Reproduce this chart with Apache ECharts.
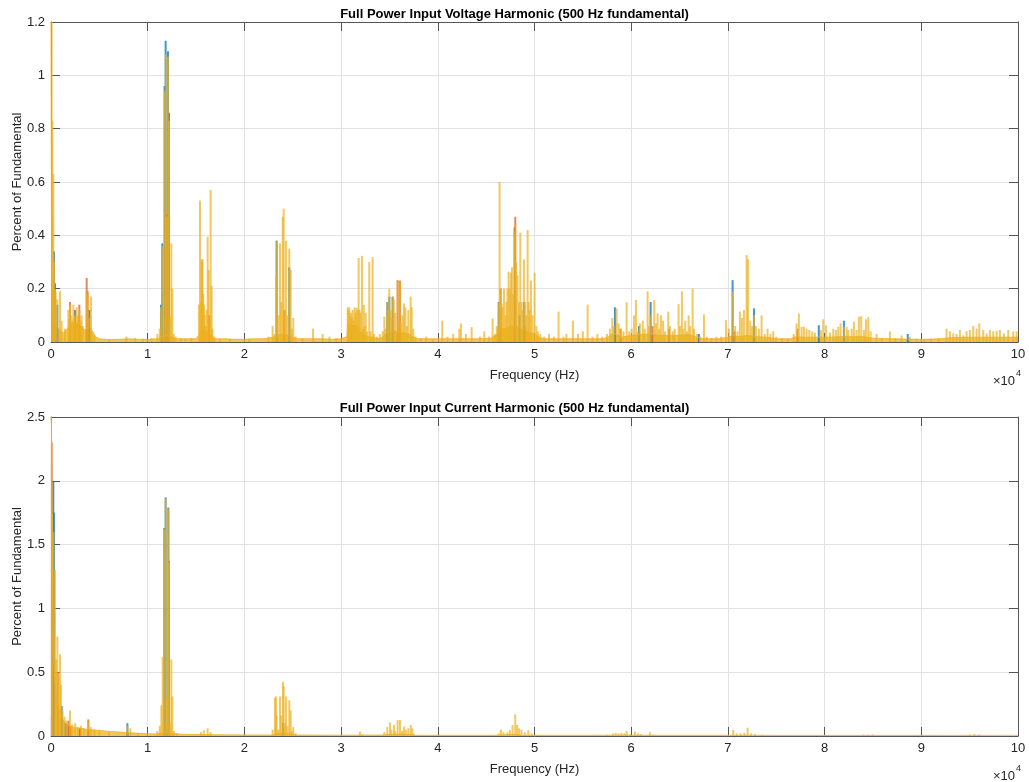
<!DOCTYPE html>
<html><head><meta charset="utf-8">
<script src="https://cdn.jsdelivr.net/npm/echarts@6/dist/echarts.min.js"></script>
<style>html,body{margin:0;padding:0;background:#fff}#c{width:1029px;height:782px}</style>
</head><body><div id="c"></div>
<script>
// ---------- Titles / labels ----------
const titles = ['Full Power Input Voltage Harmonic (500 Hz fundamental)', 'Full Power Input Current Harmonic (500 Hz fundamental)'];
const xName = 'Frequency (Hz)';
const yName = 'Percent of Fundamental';
const xTickValues = [0,10000,20000,30000,40000,50000,60000,70000,80000,90000,100000];
const xTickLabels = ['0','1','2','3','4','5','6','7','8','9','10'];
const voltYTicks = [0,0.2,0.4,0.6,0.8,1,1.2];
const currYTicks = [0,0.5,1,1.5,2,2.5];

// ---------- Voltage harmonic data: [frequency Hz, percent] ----------
const voltFloor = [[0,1.2],[50,0.5],[100,0.25],[200,0.12],[300,0.1],[450,0.07],[600,0.06],[800,0.05],[1000,0.04],[1300,0.035],[1600,0.045],[1900,0.06],[2200,0.07],[2500,0.065],[2800,0.07],[3100,0.06],[3400,0.045],[3700,0.05],[4000,0.06],[4300,0.04],[4600,0.02],[5000,0.012],[6000,0.009],[7000,0.01],[8000,0.012],[9000,0.01],[10000,0.01],[11000,0.012],[11500,0.02],[12000,0.025],[12500,0.018],[13000,0.012],[14000,0.012],[15000,0.012],[15300,0.025],[15600,0.05],[15900,0.04],[16300,0.035],[16700,0.02],[17000,0.012],[18000,0.012],[19000,0.01],[20000,0.01],[21000,0.012],[22000,0.012],[23000,0.018],[23500,0.025],[24000,0.03],[24500,0.025],[25000,0.018],[25500,0.012],[27000,0.012],[28000,0.012],[29000,0.01],[30000,0.012],[30600,0.02],[30700,0.07],[31000,0.065],[31300,0.06],[31600,0.065],[31900,0.04],[32300,0.03],[32800,0.02],[33300,0.018],[33800,0.012],[34300,0.018],[34700,0.035],[35000,0.04],[35500,0.04],[36000,0.035],[36500,0.035],[37000,0.03],[37500,0.018],[38000,0.012],[40000,0.012],[42000,0.012],[44000,0.012],[45500,0.014],[46200,0.03],[46500,0.05],[47000,0.05],[47500,0.06],[48000,0.06],[48500,0.05],[49000,0.045],[49500,0.035],[50000,0.03],[50500,0.018],[51000,0.012],[53000,0.012],[55000,0.012],[57000,0.012],[57600,0.018],[58000,0.03],[58500,0.028],[59000,0.018],[60000,0.025],[61000,0.028],[62000,0.03],[63000,0.025],[64000,0.025],[65000,0.025],[66000,0.028],[66800,0.018],[67500,0.012],[69000,0.012],[70000,0.018],[70500,0.025],[71000,0.02],[72000,0.025],[73000,0.02],[74000,0.018],[75000,0.012],[76500,0.012],[77000,0.02],[78000,0.018],[80000,0.018],[82000,0.02],[84000,0.02],[85000,0.014],[87000,0.012],[90000,0.01],[92000,0.012],[93000,0.016],[95000,0.018],[97000,0.018],[100000,0.018]];

const voltYellow = [[69,1.25],[138,0.83],[241,0.63],[310,0.3],[414,0.2],[483,0.19],[655,0.16],[931,0.19],[1103,0.08],[1448,0.05],[1792,0.12],[1880,0.09],[1965,0.14],[2100,0.1],[2200,0.08],[2309,0.14],[2400,0.09],[2482,0.1],[2560,0.07],[2654,0.13],[2760,0.1],[2850,0.08],[2930,0.12],[3050,0.08],[3171,0.1],[3300,0.06],[3688,0.19],[3792,0.18],[3964,0.09],[4136,0.17],[4300,0.03],[4500,0.025],
[6000,0.01],[7800,0.02],[8700,0.015],[9500,0.012],[10400,0.015],
[11000,0.03],[11250,0.05],[11374,0.13],[11510,0.36],[11640,0.1],[11750,0.94],[11855,1.08],[11950,0.47],[12098,1.07],[12200,0.83],[12320,0.1],[12440,0.37],[12545,0.2],[12700,0.03],[12900,0.02],[13400,0.015],[13900,0.012],[14500,0.015],
[15300,0.14],[15407,0.53],[15500,0.15],[15560,0.31],[15613,0.3],[15680,0.31],[15750,0.18],[15820,0.14],[15900,0.1],[16000,0.06],[16100,0.12],[16200,0.395],[16300,0.27],[16400,0.08],[16510,0.57],[16613,0.21],[16700,0.05],[16900,0.02],[17500,0.012],[18500,0.01],[20500,0.012],
[22500,0.02],[22923,0.06],[23100,0.03],[23265,0.25],[23337,0.38],[23500,0.1],[23678,0.37],[23800,0.15],[23958,0.47],[24061,0.5],[24180,0.12],[24299,0.38],[24450,0.1],[24640,0.35],[24785,0.27],[24900,0.05],[25054,0.09],[25300,0.02],[26000,0.015],[27100,0.05],[28090,0.03],[28800,0.02],[29500,0.015],
[30680,0.13],[30760,0.12],[30850,0.13],[30940,0.1],[31030,0.11],[31120,0.09],[31210,0.12],[31300,0.08],[31400,0.13],[31500,0.11],[31600,0.128],[31700,0.12],[31814,0.315],[31900,0.12],[32000,0.11],[32157,0.323],[32250,0.05],[32350,0.14],[32450,0.06],[32550,0.11],[32700,0.04],[32916,0.3],[33050,0.04],[33262,0.318],[33400,0.03],[33700,0.02],[34000,0.03],
[34300,0.04],[34466,0.095],[34600,0.05],[34776,0.15],[34880,0.12],[34983,0.2],[35100,0.12],[35200,0.09],[35330,0.17],[35450,0.16],[35600,0.11],[35847,0.232],[35950,0.07],[36087,0.226],[36200,0.07],[36350,0.1],[36500,0.145],[36650,0.13],[36800,0.06],[36950,0.12],[37193,0.17],[37300,0.13],[37469,0.05],[37700,0.02],
[38200,0.015],[38800,0.02],[39500,0.01],[40460,0.08],[41000,0.02],[41600,0.03],[42220,0.05],[42395,0.07],[42910,0.03],[43500,0.056],[44360,0.02],[44800,0.04],[45300,0.02],[45670,0.088],[45900,0.03],[46100,0.06],
[46200,0.05],[46300,0.145],[46390,0.6],[46500,0.2],[46600,0.145],[46700,0.13],[46850,0.2],[47000,0.1],[47100,0.15],[47200,0.2],[47323,0.264],[47450,0.2],[47550,0.26],[47667,0.28],[47800,0.18],[47943,0.41],[48012,0.44],[48100,0.3],[48250,0.25],[48400,0.15],[48530,0.41],[48650,0.15],[48780,0.12],[48909,0.31],[49050,0.15],[49150,0.1],[49289,0.42],[49400,0.15],[49500,0.12],[49632,0.23],[49800,0.1],[50012,0.26],[50200,0.06],[50350,0.04],[50600,0.03],[51000,0.02],[51500,0.03],[52000,0.02],[52493,0.114],[53000,0.02],[53300,0.03],[53970,0.08],[54500,0.03],[55000,0.04],[55490,0.14],[56000,0.02],[56500,0.03],[57000,0.02],
[57500,0.03],[57800,0.05],[58043,0.09],[58200,0.06],[58491,0.126],[58700,0.07],[58900,0.05],[59200,0.04],[59525,0.149],[59800,0.04],[60050,0.05],[60283,0.1],[60490,0.157],[60700,0.04],[60900,0.07],[61200,0.08],[61400,0.05],[61697,0.19],[61850,0.06],[62007,0.1],[62386,0.157],[62550,0.07],[62731,0.107],[62900,0.05],[63075,0.1],[63300,0.08],[63500,0.04],[63834,0.114],[64000,0.06],[64300,0.04],[64500,0.05],[64902,0.142],[65050,0.06],[65247,0.19],[65400,0.05],[65592,0.08],[65750,0.04],[65936,0.1],[66100,0.06],[66350,0.2],[66500,0.05],[66800,0.03],[67100,0.02],[67522,0.104],[67800,0.02],[68300,0.015],[68800,0.02],[69300,0.02],[69797,0.082],[70100,0.05],[70486,0.19],[70750,0.06],[71000,0.04],[71244,0.114],[71450,0.09],[71658,0.12],[71934,0.326],[72072,0.31],[72300,0.08],[72500,0.06],[72693,0.1],[72900,0.06],[73200,0.05],[73485,0.1],[73800,0.03],[74100,0.05],[74400,0.03],[74692,0.04],[75000,0.02],[75600,0.015],[76200,0.012],[76800,0.03],
[77103,0.07],[77344,0.107],[77620,0.057],[77861,0.057],[78137,0.05],[78412,0.045],[78723,0.04],[78998,0.035],[79619,0.045],[79860,0.085],[80136,0.063],[80550,0.035],[80894,0.05],[81170,0.045],[81411,0.057],[81653,0.07],[81997,0.057],[82273,0.057],[82445,0.045],[82790,0.05],[83031,0.076],[83307,0.045],[83548,0.095],[83790,0.097],[84065,0.045],[84272,0.085],[84514,0.093],[84755,0.04],[85376,0.03],[85900,0.015],[86754,0.04],[87300,0.015],[87961,0.025],[88822,0.02],[89500,0.012],[90300,0.01],[91000,0.012],[91800,0.015],[92614,0.05],[92959,0.04],[93303,0.032],[93650,0.03],[93993,0.045],[94338,0.025],[94682,0.04],[95027,0.045],[95372,0.06],[95717,0.05],[95993,0.07],[96406,0.045],[96751,0.032],[97096,0.045],[97440,0.04],[97785,0.042],[98130,0.045],[98543,0.032],[98991,0.045],[99508,0.04],[99853,0.04]];

const voltBlue = [[310,0.34],[414,0.22],[655,0.14],[2482,0.12],[3964,0.12],[11374,0.14],[11510,0.37],[11750,0.96],[11855,1.13],[12098,1.09],[12200,0.86],[23337,0.38],[24640,0.28],[34776,0.15],[34983,0.17],[35330,0.17],[46300,0.15],[47943,0.43],[48450,0.1],[48900,0.15],[58318,0.13],[60800,0.06],[62007,0.15],[67000,0.03],[70486,0.232],[72693,0.126],[79400,0.063],[81997,0.08],[88600,0.03]];

const voltRed = [[200,0.2],[1965,0.15],[2930,0.14],[3688,0.24],[3792,0.19],[11950,0.48],[16350,0.1],[24100,0.12],[35847,0.232],[36087,0.23],[46500,0.2],[48012,0.47],[49000,0.06],[58900,0.05],[62200,0.06],[63900,0.05],[70700,0.04],[77200,0.05]];

// ---------- Current harmonic data: [frequency Hz, percent] ----------
const currFloor = [[0,2.5],[50,2.45],[90,2.0],[130,1.6],[180,1.2],[230,0.85],[300,0.6],[380,0.45],[480,0.38],[586,0.33],[700,0.27],[850,0.2],[1000,0.16],[1200,0.13],[1500,0.1],[1800,0.085],[2136,0.073],[2600,0.065],[3200,0.058],[3800,0.05],[4550,0.047],[5500,0.04],[6500,0.034],[7300,0.03],[8000,0.026],[9000,0.022],[10000,0.018],[10750,0.016],[11300,0.02],[12000,0.03],[12700,0.02],[13500,0.014],[15000,0.012],[17000,0.01],[20000,0.008],[22800,0.008],[23300,0.015],[24000,0.025],[24800,0.015],[25500,0.008],[30000,0.006],[34500,0.008],[35000,0.012],[36000,0.015],[37000,0.012],[37600,0.006],[46000,0.006],[47500,0.012],[48200,0.012],[48800,0.006],[60000,0.006],[70000,0.006],[80000,0.005],[90000,0.005],[100000,0.005]];

const currYellow = [[0,2.5],[130,1.74],[241,1.6],[414,1.3],[520,0.6],[655,0.78],[760,0.45],[931,0.64],[1034,0.4],[1200,0.2],[1400,0.15],[1600,0.12],[1965,0.2],[2200,0.09],[2500,0.1],[2800,0.07],[3100,0.08],[3400,0.06],[3860,0.12],[4100,0.07],[4500,0.05],[5000,0.04],[6000,0.03],[7900,0.08],[8200,0.06],[9000,0.02],
[11000,0.04],[11250,0.08],[11410,0.24],[11547,0.62],[11640,0.1],[11720,1.62],[11857,1.86],[11950,0.3],[12133,1.78],[12200,1.36],[12320,0.1],[12443,0.6],[12546,0.31],[12700,0.04],[13000,0.02],
[15500,0.03],[15800,0.045],[16200,0.06],[16500,0.03],
[22923,0.05],[23160,0.3],[23265,0.31],[23337,0.16],[23500,0.05],[23678,0.31],[23800,0.16],[23989,0.425],[24061,0.39],[24180,0.1],[24299,0.31],[24450,0.08],[24640,0.28],[24785,0.2],[24900,0.04],[25054,0.07],[25300,0.02],
[31950,0.035],[32200,0.015],
[34466,0.03],[34776,0.07],[35053,0.107],[35200,0.05],[35466,0.086],[35600,0.04],[35846,0.125],[36087,0.125],[36300,0.04],[36500,0.073],[36700,0.05],[36950,0.06],[37193,0.086],[37350,0.06],[37500,0.02],
[46300,0.02],[46530,0.05],[46800,0.03],[47200,0.03],[47450,0.047],[47735,0.086],[48012,0.17],[48200,0.086],[48400,0.06],[48650,0.05],[49000,0.03],[49357,0.047],[49700,0.02],
[57500,0.01],[58110,0.02],[58400,0.025],[58700,0.02],[59000,0.025],[59300,0.02],[59525,0.04],[59900,0.015],[60385,0.035],[60700,0.02],[61000,0.015],[61935,0.03],[62300,0.01],
[70550,0.05],[70900,0.02],[71300,0.02],[71700,0.025],[72038,0.065],[72400,0.02],[72800,0.015],[73500,0.01],
[80000,0.008],[84000,0.012],[84500,0.01],[85000,0.012],[95000,0.012],[95500,0.015],[96000,0.012]];

const currBlue = [[30,0.15],[241,2.0],[300,1.75],[1103,0.235],[1500,0.1],[7900,0.1],[11720,1.63],[11857,1.87],[12133,1.79],[12200,1.37],[24000,0.1]];

const currRed = [[69,2.3],[700,0.5],[1800,0.12],[2000,0.08],[3000,0.06],[3860,0.13]];

// ---------- Chart ----------
const BLUE = '#0072BD', RED = '#D95319', YEL = '#EDB120';
const FONT = 'Liberation Sans, Arial, Helvetica, sans-serif';
const TXT = '#262626', AXC = '#555555', GRIDC = '#e2e2e2';

const grids = [
  {left: 51, right: 11, top: 22, height: 320, containLabel: false, outerBoundsMode: 'none'},
  {left: 51, right: 11, top: 417, height: 319, containLabel: false, outerBoundsMode: 'none'}
];
const yMax = [1.2, 2.5], yInt = [0.2, 0.5];

const xAxes = [], yAxes = [];
[0,1].forEach(g => {
  xAxes.push({
    gridIndex: g, type: 'value', min: xTickValues[0], max: xTickValues[xTickValues.length-1], interval: 10000,
    position: 'bottom',
    name: xName, nameLocation: 'middle', nameGap: 27, nameMoveOverlap: false,
    nameTextStyle: {fontFamily: FONT, fontSize: 13, color: TXT},
    axisLine: {show: true, onZero: false, lineStyle: {color: AXC, width: 1}},
    axisTick: {show: true, inside: true, length: 9, lineStyle: {color: AXC}},
    axisLabel: {fontFamily: FONT, fontSize: 13, color: TXT, margin: 6,
      formatter: v => xTickLabels[xTickValues.indexOf(v)]},
    splitLine: {show: true, lineStyle: {color: GRIDC, width: 1}}
  });
  xAxes.push({
    gridIndex: g, type: 'value', min: 0, max: 100000, interval: 10000, position: 'top',
    axisLine: {show: true, onZero: false, lineStyle: {color: AXC, width: 1}},
    axisTick: {show: true, inside: true, length: 9, lineStyle: {color: AXC}},
    axisLabel: {show: false}, splitLine: {show: false}
  });
  yAxes.push({
    gridIndex: g, type: 'value', min: 0, max: yMax[g], interval: yInt[g], position: 'left',
    name: yName, nameLocation: 'middle', nameGap: 27, nameRotate: 90, nameMoveOverlap: false,
    nameTextStyle: {fontFamily: FONT, fontSize: 13, color: TXT},
    axisLine: {show: true, onZero: false, lineStyle: {color: AXC, width: 1}},
    axisTick: {show: true, inside: true, length: 9, lineStyle: {color: AXC}},
    axisLabel: {fontFamily: FONT, fontSize: 13, color: TXT, margin: 6},
    splitLine: {show: true, lineStyle: {color: GRIDC, width: 1}}
  });
  yAxes.push({
    gridIndex: g, type: 'value', min: 0, max: yMax[g], interval: yInt[g], position: 'right',
    axisLine: {show: true, onZero: false, lineStyle: {color: AXC, width: 1}},
    axisTick: {show: true, inside: true, length: 9, lineStyle: {color: AXC}},
    axisLabel: {show: false}, splitLine: {show: false}
  });
});

function bars(data, color, opacity, g) {
  return {type: 'bar', xAxisIndex: g*2, yAxisIndex: g*2, data: data, barWidth: 2, barGap: '-100%',
    itemStyle: {color: color, opacity: opacity}, silent: true, clip: true, animation: false};
}
function floorLine(data, g) {
  return {type: 'line', xAxisIndex: g*2, yAxisIndex: g*2, data: data, showSymbol: false, symbol: 'none',
    lineStyle: {color: YEL, width: 1, opacity: 0.8}, areaStyle: {color: YEL, opacity: 0.75},
    silent: true, clip: true, animation: false, z: 2};
}

const series = [
  bars(voltBlue, BLUE, 0.75, 0), bars(voltRed, RED, 0.7, 0), floorLine(voltFloor, 0), bars(voltYellow, YEL, 0.7, 0),
  bars(currBlue, BLUE, 0.75, 1), bars(currRed, RED, 0.7, 1), floorLine(currFloor, 1), bars(currYellow, YEL, 0.7, 1)
];

const chart = echarts.init(document.getElementById('c'), null, {renderer: 'canvas'});
chart.setOption({
  animation: false,
  backgroundColor: '#ffffff',
  title: [
    {text: titles[0], left: 'center', top: 3, textStyle: {fontFamily: FONT, fontSize: 13, fontWeight: 'bold', color: '#000'}},
    {text: titles[1], left: 'center', top: 397, textStyle: {fontFamily: FONT, fontSize: 13, fontWeight: 'bold', color: '#000'}}
  ],
  grid: grids,
  xAxis: xAxes,
  yAxis: yAxes,
  series: series,
  graphic: [
    {type: 'text', x: 1015, y: 381, style: {text: '×10', fontFamily: FONT, fontSize: 13, fill: TXT, align: 'right', verticalAlign: 'middle'}},
    {type: 'text', x: 1016, y: 374, style: {text: '4', fontFamily: FONT, fontSize: 9, fill: TXT, align: 'left', verticalAlign: 'middle'}},
    {type: 'text', x: 1015, y: 776, style: {text: '×10', fontFamily: FONT, fontSize: 13, fill: TXT, align: 'right', verticalAlign: 'middle'}},
    {type: 'text', x: 1016, y: 769, style: {text: '4', fontFamily: FONT, fontSize: 9, fill: TXT, align: 'left', verticalAlign: 'middle'}}
  ]
});
</script></body></html>
